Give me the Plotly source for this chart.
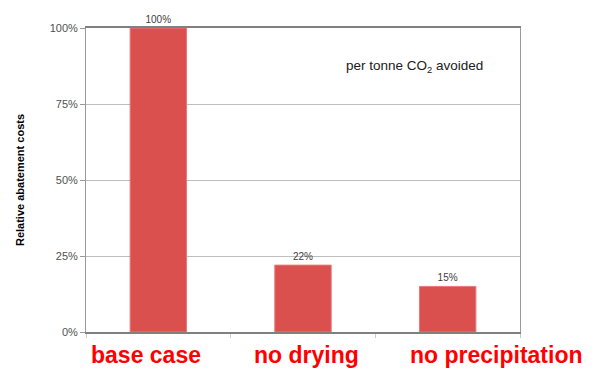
import plotly.graph_objects as go

categories = ["base case", "no drying", "no precipitation"]
values = [100, 22, 15]
value_labels = ["100%", "22%", "15%"]
label_x = [0.139, 0.507, 0.947]  # paper positions of the category captions
y_ticks = [0, 25, 50, 75, 100]
y_tick_labels = ["0%", "25%", "50%", "75%", "100%"]

fig = go.Figure()
fig.add_trace(go.Bar(
    x=categories, y=values,
    marker=dict(color="#d9504e", line=dict(color="#e87a78", width=1)),
    width=0.39,
    text=value_labels, textposition="outside", cliponaxis=False,
    textfont=dict(family="Liberation Sans, Arial", size=10, color="#404040"),
))

for cat, lx in zip(categories, label_x):
    fig.add_annotation(
        xref="paper", yref="paper", x=lx, y=-0.076, xanchor="center", yanchor="middle",
        text="<b>%s</b>" % cat, showarrow=False,
        font=dict(family="Liberation Sans, Arial", size=23, color="#ff0000"),
    )

fig.add_annotation(
    xref="paper", yref="paper", x=0.756, y=0.875, xanchor="center", yanchor="middle",
    text="per tonne CO<sub>2</sub> avoided", showarrow=False,
    font=dict(family="Liberation Sans, Arial", size=13.5, color="#202020"),
)

fig.update_layout(
    width=594, height=372,
    margin=dict(l=86, r=74, t=28, b=40),
    plot_bgcolor="white", paper_bgcolor="white",
    showlegend=False,
    bargap=0.61,
    xaxis=dict(
        type="category",
        showline=True, linecolor="#808080", linewidth=1.5, mirror=True,
        ticks="outside", tickson="boundaries", ticklen=4, tickcolor="#c8c8c8",
        showticklabels=False,
        showgrid=False,
    ),
    yaxis=dict(
        range=[0, 100],
        tickvals=y_ticks, ticktext=y_tick_labels,
        showline=True, linecolor="#9a9a9a", linewidth=1, mirror=True,
        ticks="outside", ticklen=5, tickcolor="#9a9a9a",
        showgrid=True, gridcolor="#bdbdbd", gridwidth=1,
        tickfont=dict(family="Liberation Sans, Arial", size=11, color="#505050"),
        title=dict(text="<b>Relative abatement costs</b>", font=dict(family="Liberation Sans, Arial", size=11, color="#000000"), standoff=22),
        zeroline=False,
    ),
)

fig.write_html("out.html")
